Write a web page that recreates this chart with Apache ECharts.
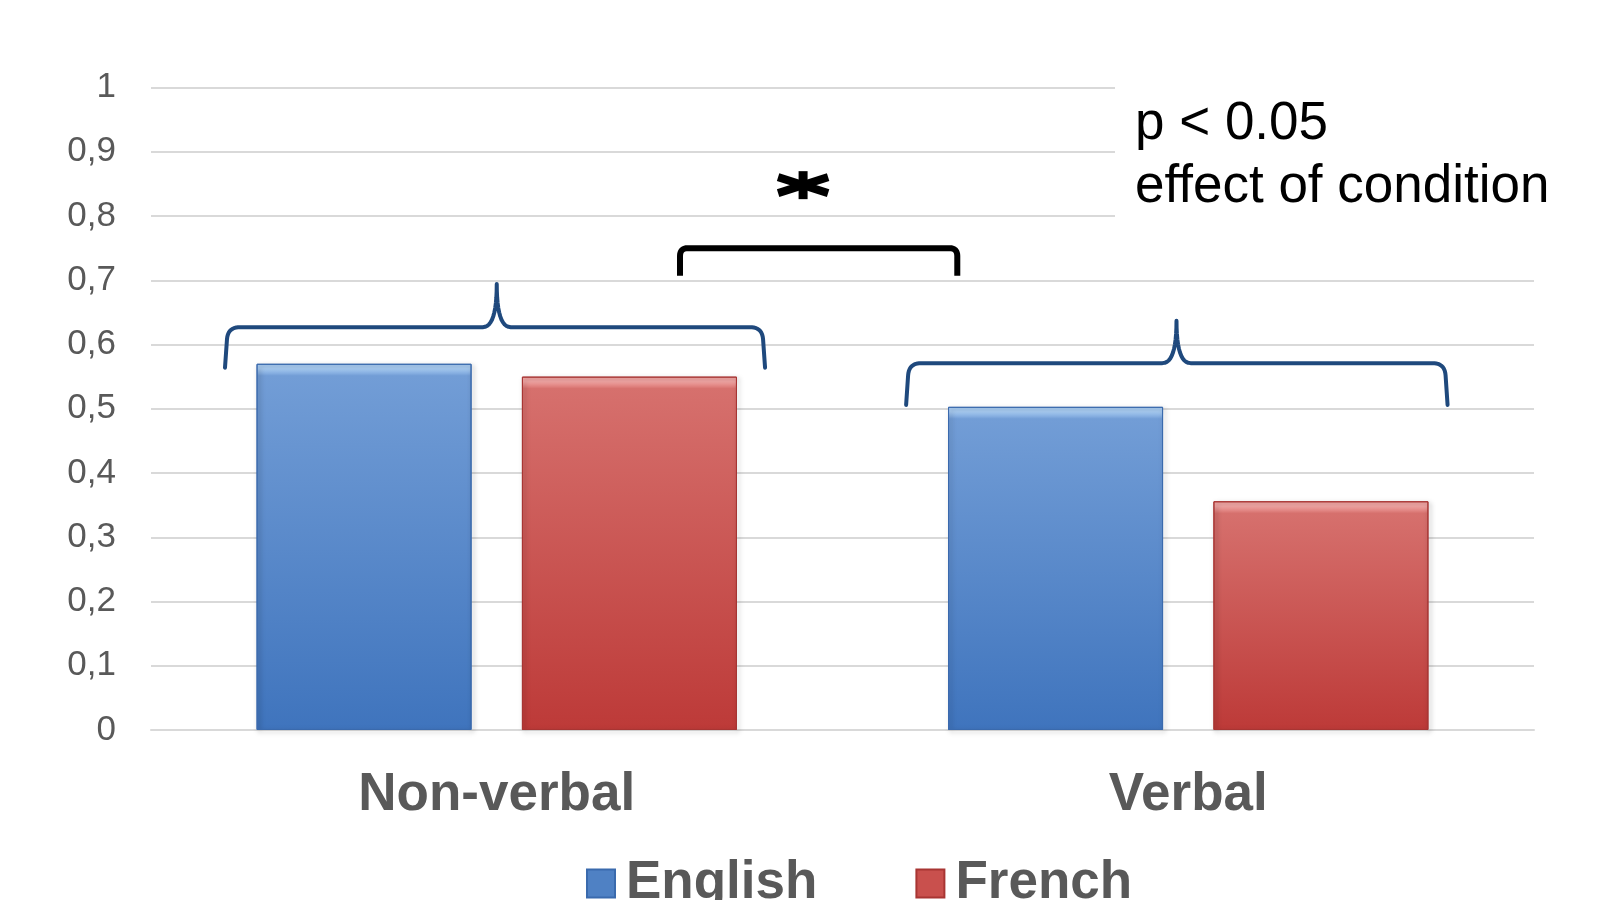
<!DOCTYPE html>
<html>
<head>
<meta charset="utf-8">
<script src="https://cdn.jsdelivr.net/npm/echarts@6/dist/echarts.min.js"></script>
<style>
html,body{margin:0;padding:0;background:#fff;}
#chart{width:1614px;height:900px;}
</style>
</head>
<body>
<div id="chart"></div>
<script>
const categories = ['Non-verbal', 'Verbal'];
const seriesNames = ['English', 'French'];
const englishValues = [0.57, 0.503];
const frenchValues = [0.55, 0.356];
const yTickLabels = ['0', '0,1', '0,2', '0,3', '0,4', '0,5', '0,6', '0,7', '0,8', '0,9', '1'];
const annotationText = ['p < 0.05', 'effect of condition'];

const FONT = '"Liberation Sans", Arial, sans-serif';
const GRAY = '#595959';
const PLOT_H = 642.5;

function bevelFill(value, light, top, bottom) {
  const h = Math.max(value * PLOT_H, 20);
  return new echarts.graphic.LinearGradient(0, 0, 0, 1, [
    { offset: 0, color: light },
    { offset: 5 / h, color: light },
    { offset: 12 / h, color: top },
    { offset: 1, color: bottom }
  ]);
}

const chart = echarts.init(document.getElementById('chart'), null, { renderer: 'canvas' });

const shadow = { shadowColor: 'rgba(0,0,0,0.35)', shadowBlur: 5, shadowOffsetX: 2, shadowOffsetY: 2 };
const option = {
  backgroundColor: '#fff',
  animation: false,
  grid: { left: 151, right: 80, top: 87.5, bottom: 170, containLabel: false },
  legend: {
    data: seriesNames,
    left: 581,
    top: 852,
    itemWidth: 28,
    itemHeight: 28,
    itemGap: 98,
    icon: 'rect',
    textStyle: { fontFamily: FONT, fontSize: 53, fontWeight: 'bold', color: GRAY, padding: [0, 0, 0, 6] }
  },
  color: ['#4f81c4', '#c9504d'],
  xAxis: {
    type: 'category',
    data: categories,
    axisTick: { show: false },
    axisLine: { show: true, lineStyle: { color: '#d9d9d9', width: 2 } },
    axisLabel: { fontFamily: FONT, fontSize: 53, fontWeight: 'bold', color: GRAY, margin: 39 }
  },
  yAxis: {
    type: 'value',
    min: 0,
    max: 1,
    interval: 0.1,
    axisLine: { show: false },
    axisTick: { show: false },
    splitLine: { lineStyle: { color: '#d9d9d9', width: 2 } },
    axisLabel: {
      fontFamily: FONT, fontSize: 35, color: GRAY, margin: 35,
      formatter: v => yTickLabels[Math.round(v * 10)]
    }
  },
  series: [
    {
      name: seriesNames[0], type: 'bar',
      data: englishValues.map(v => ({ value: v, itemStyle: { color: bevelFill(v, '#a9cdf4', '#729dd6', '#3f74bd') } })),
      barWidth: '31.1%', barGap: '23.4%',
      itemStyle: Object.assign({ color: '#4f81c4', borderColor: '#3a6aad', borderWidth: 1 }, shadow)
    },
    {
      name: seriesNames[1], type: 'bar',
      data: frenchValues.map(v => ({ value: v, itemStyle: { color: bevelFill(v, '#f4a7a5', '#d6706d', '#bd3a38') } })),
      barWidth: '31.1%', barGap: '23.4%',
      itemStyle: Object.assign({ color: '#c9504d', borderColor: '#a83533', borderWidth: 1 }, shadow)
    }
  ]
};
chart.setOption(option);

function px(catPos, value) {
  const a = chart.convertToPixel({ seriesIndex: 0 }, [0, value]);
  const b = chart.convertToPixel({ seriesIndex: 0 }, [1, value]);
  return [a[0] + catPos * (b[0] - a[0]), a[1]];
}
function quad(pts, p0, c, p1, n) {
  for (let i = 1; i <= n; i++) {
    const t = i / n, u = 1 - t;
    pts.push([u * u * p0[0] + 2 * u * t * c[0] + t * t * p1[0], u * u * p0[1] + 2 * u * t * c[1] + t * t * p1[1]]);
  }
}
function bracePoints(L, C, R, yb, yh, yp) {
  const l = px(L, yb), r = px(R, yb), c = px(C, yh);
  const h = c[1], p = px(C, yp)[1];
  const rr = 12, cr = 14, n = 12;
  const pts = [l];
  let cur = [l[0] + 2, h + rr];
  pts.push(cur);
  quad(pts, cur, [l[0] + 3, h], [l[0] + 3 + rr, h], n);
  pts.push([c[0] - cr, h]);
  quad(pts, [c[0] - cr, h], [c[0], h], [c[0], p], n);
  quad(pts, [c[0], p], [c[0], h], [c[0] + cr, h], n);
  pts.push([r[0] - 3 - rr, h]);
  quad(pts, [r[0] - 3 - rr, h], [r[0] - 3, h], [r[0] - 2, h + rr], n);
  pts.push(r);
  return pts;
}
function bracketPoints(L, R, yb, yt) {
  const a = px(L, yb), b = px(R, yb), t = px(L, yt)[1];
  const rr = 8, n = 8;
  const pts = [a, [a[0], t + rr]];
  quad(pts, [a[0], t + rr], [a[0], t], [a[0] + rr, t], n);
  pts.push([b[0] - rr, t]);
  quad(pts, [b[0] - rr, t], [b[0], t], [b[0], t + rr], n);
  pts.push(b);
  return pts;
}
const star = px(0.443, 0.848);
const braceStyle = { stroke: '#1f497d', lineWidth: 4, fill: null, lineJoin: 'round', lineCap: 'round' };
const starStyle = { stroke: '#000', lineWidth: 8 };

chart.setOption({
  graphic: [
    { type: 'rect', z: 10, shape: { x: 1115, y: 70, width: 499, height: 170 }, style: { fill: '#fff' } },
    { type: 'text', z: 11, x: 1135, y: 124, style: { text: annotationText[0], font: '53px ' + FONT, fill: '#000', verticalAlign: 'middle' } },
    { type: 'text', z: 11, x: 1135, y: 187, style: { text: annotationText[1], font: '53px ' + FONT, fill: '#000', verticalAlign: 'middle' } },
    { type: 'polyline', z: 11, shape: { points: bracePoints(-0.393, 0, 0.388, 0.564, 0.627, 0.694) }, style: braceStyle },
    { type: 'polyline', z: 11, shape: { points: bracePoints(0.592, 0.983, 1.375, 0.506, 0.571, 0.637) }, style: braceStyle },
    { type: 'polyline', z: 11, shape: { points: bracketPoints(0.265, 0.666, 0.707, 0.750) }, style: { stroke: '#000', lineWidth: 6, fill: null, lineJoin: 'round' } },
    { type: 'line', z: 11, shape: { x1: star[0], y1: star[1] - 14, x2: star[0], y2: star[1] + 14 }, style: { stroke: '#000', lineWidth: 9 } },
    { type: 'line', z: 11, shape: { x1: star[0] - 25, y1: star[1] - 8, x2: star[0] + 25, y2: star[1] + 8 }, style: starStyle },
    { type: 'line', z: 11, shape: { x1: star[0] - 25, y1: star[1] + 8, x2: star[0] + 25, y2: star[1] - 8 }, style: starStyle }
  ]
});
</script>
</body>
</html>
